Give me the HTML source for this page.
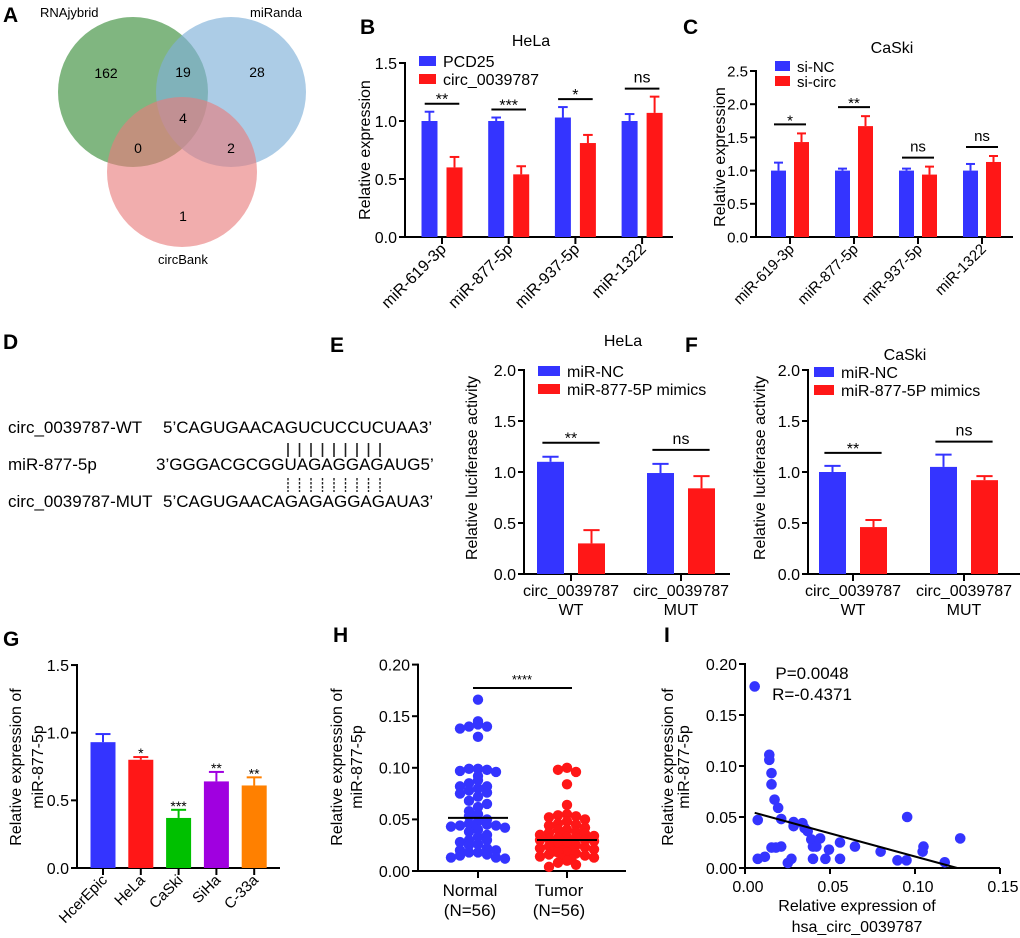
<!DOCTYPE html>
<html><head><meta charset="utf-8"><style>
html,body{margin:0;padding:0;background:#fff;}
svg{display:block;font-family:"Liberation Sans",Arial,sans-serif;}
</style></head><body>
<svg id="fig" width="1020" height="938" viewBox="0 0 1020 938" xmlns="http://www.w3.org/2000/svg">
<g>
<text x="3" y="22" font-size="21" font-weight="bold">A</text>
<circle cx="133" cy="92" r="75" fill="#4f9a4f" fill-opacity="0.72"/>
<circle cx="231" cy="92" r="75" fill="#7fb0d8" fill-opacity="0.65"/>
<circle cx="182" cy="172" r="75" fill="#e87a7a" fill-opacity="0.62"/>
<text x="40" y="17" font-size="13">RNAjybrid</text>
<text x="250" y="17" font-size="13">miRanda</text>
<text x="158" y="264" font-size="13">circBank</text>
<g font-size="14" text-anchor="middle">
<text x="106" y="78">162</text>
<text x="183" y="77">19</text>
<text x="257" y="77">28</text>
<text x="183" y="123">4</text>
<text x="138" y="153">0</text>
<text x="231" y="153">2</text>
<text x="183" y="221">1</text>
</g></g>
<g font-size="17">
<text x="3" y="349" font-size="21" font-weight="bold">D</text>
<text x="8" y="433">circ_0039787-WT</text>
<text x="163" y="433">5’CAGUGAACAGUCUCCUCUAA3’</text>
<text x="8" y="470">miR-877-5p</text>
<text x="156" y="470">3’GGGACGCGGUAGAGGAGAUG5’</text>
<text x="8" y="507">circ_0039787-MUT</text>
<text x="163" y="507">5’CAGUGAACAGAGAGGAGAUA3’</text>
<g id="pairs"></g>
</g>
</svg>
<script>
const NS='http://www.w3.org/2000/svg';
const svg=document.getElementById('fig');
function mk(parent,tag,attrs,name,text){
  const el=document.createElementNS(NS,tag);
  for(const k in attrs) el.setAttribute(k,attrs[k]);
  
  
  if(text!==undefined) el.textContent=text;
  parent.appendChild(el);
  return el;
}
const pg=document.getElementById('pairs');
for(let i=0;i<9;i++){
  const x=288+i*11.5;
  mk(pg,'line',{x1:x,y1:443,x2:x,y2:457,stroke:'#222','stroke-width':1.6},'pair-line-wt');
  mk(pg,'line',{x1:x,y1:478,x2:x,y2:492,stroke:'#222','stroke-width':1.4,'stroke-dasharray':'2.5,1.5'},'pair-line-mut');
}

// ---------- data ----------
const bCats=['miR-619-3p','miR-877-5p','miR-937-5p','miR-1322'];
const bCtrl=[1.0,1.0,1.03,1.0];
const bCtrlErr=[0.08,0.03,0.09,0.06];
const bTreat=[0.6,0.54,0.81,1.07];
const bTreatErr=[0.09,0.07,0.07,0.14];
const bSig=['**','***','*','ns'];
const bTicks=[0,0.5,1.0,1.5];

const cCats=['miR-619-3p','miR-877-5p','miR-937-5p','miR-1322'];
const cCtrl=[1.0,1.0,1.0,1.0];
const cCtrlErr=[0.12,0.03,0.03,0.1];
const cTreat=[1.43,1.67,0.94,1.13];
const cTreatErr=[0.13,0.15,0.12,0.09];
const cSig=['*','**','ns','ns'];
const cTicks=[0,0.5,1.0,1.5,2.0,2.5];

const eCats=['circ_0039787|WT','circ_0039787|MUT'];
const eCtrl=[1.1,0.99];
const eCtrlErr=[0.05,0.09];
const eTreat=[0.3,0.84];
const eTreatErr=[0.13,0.12];
const eSig=['**','ns'];
const fCtrl=[1.0,1.05];
const fCtrlErr=[0.06,0.12];
const fTreat=[0.46,0.92];
const fTreatErr=[0.07,0.04];
const fSig=['**','ns'];
const efTicks=[0,0.5,1.0,1.5,2.0];

const gCats=['HcerEpic','HeLa','CaSki','SiHa','C-33a'];
const gVals=[0.93,0.80,0.37,0.64,0.61];
const gErr=[0.06,0.02,0.06,0.07,0.06];
const gSig=['','*','***','**','**'];
const gTicks=[0,0.5,1.0,1.5];

const hNormal=[0.166,0.145,0.142,0.140,0.140,0.138,0.130,0.099,0.099,0.098,0.097,0.096,0.092,0.088,0.085,0.082,0.082,0.080,0.078,0.076,0.075,0.072,0.068,0.065,0.062,0.058,0.055,0.053,0.050,0.048,0.046,0.045,0.044,0.044,0.043,0.042,0.042,0.040,0.038,0.035,0.033,0.030,0.030,0.028,0.026,0.025,0.022,0.020,0.020,0.018,0.018,0.016,0.015,0.013,0.013,0.012];
const hTumor=[0.100,0.098,0.096,0.084,0.064,0.055,0.054,0.053,0.052,0.050,0.048,0.046,0.045,0.044,0.042,0.040,0.040,0.038,0.037,0.036,0.035,0.034,0.034,0.033,0.032,0.032,0.031,0.030,0.030,0.029,0.028,0.028,0.027,0.026,0.025,0.025,0.024,0.023,0.022,0.021,0.020,0.020,0.019,0.018,0.018,0.017,0.016,0.015,0.014,0.013,0.012,0.011,0.010,0.008,0.006,0.004];
const hTicks=[0,0.05,0.10,0.15,0.20];

const iX=[0.0057,0.0075,0.0143,0.0143,0.0156,0.0156,0.0174,0.0195,0.0213,0.0286,0.0286,0.0338,0.0351,0.0369,0.039,0.0442,0.040,0.042,0.0494,0.0559,0.0647,0.0798,0.0954,0.0897,0.095,0.105,0.1045,0.1175,0.1266,0.0075,0.0117,0.0156,0.0182,0.0213,0.0252,0.0273,0.040,0.0473,0.0559];
const iY=[0.178,0.047,0.111,0.106,0.093,0.082,0.067,0.059,0.048,0.045,0.041,0.044,0.039,0.036,0.028,0.029,0.021,0.021,0.018,0.025,0.021,0.016,0.050,0.0075,0.0075,0.021,0.016,0.0056,0.029,0.009,0.011,0.020,0.020,0.021,0.005,0.009,0.009,0.009,0.009];
const iXTicks=[0,0.05,0.10,0.15];
const iYTicks=[0,0.05,0.10,0.15,0.20];

// ---------- helpers ----------
const BLUE='#3434ff', RED='#ff1717';
function yAxis(g,ox,oy,yTop,ticks,sc,fmt,fs){
  mk(g,'line',{x1:ox,y1:yTop-1,x2:ox,y2:oy+1,stroke:'#000','stroke-width':2},'y-axis-line');
  ticks.forEach(t=>{
    const y=oy-t*sc;
    mk(g,'line',{x1:ox-6,y1:y,x2:ox,y2:y,stroke:'#000','stroke-width':2},'y-tick');
    mk(g,'text',{x:ox-8,y:y+fs*0.36,'font-size':fs,'text-anchor':'end'},'y-tick-label',fmt(t));
  });
}
function xAxis(g,ox,oy,xEnd){
  mk(g,'line',{x1:ox-1,y1:oy,x2:xEnd,y2:oy,stroke:'#000','stroke-width':2},'x-axis-line');
}
function bar(g,cx,w,oy,v,err,sc,color,name){
  const top=oy-v*sc;
  mk(g,'rect',{x:cx-w/2,y:top,width:w,height:v*sc,fill:color},name);
  if(err>0){
    const et=top-err*sc;
    mk(g,'line',{x1:cx,y1:top,x2:cx,y2:et,stroke:color,'stroke-width':2},'error-bar');
    mk(g,'line',{x1:cx-w*0.3,y1:et,x2:cx+w*0.3,y2:et,stroke:color,'stroke-width':2},'error-cap');
  }
  return top-err*sc;
}
function sig(g,x1,x2,y,label,fs){
  mk(g,'line',{x1:x1,y1:y,x2:x2,y2:y,stroke:'#000','stroke-width':2},'significance-line');
  mk(g,'text',{x:(x1+x2)/2,y:label==='ns'?y-6:y+1,'font-size':fs,'text-anchor':'middle'},'significance-label',label);
}
function ylabel(g,x,y,lines,fs,gap){
  lines.forEach((l,i)=>{
    mk(g,'text',{x:0,y:0,'font-size':fs,'text-anchor':'middle',transform:`translate(${x+i*gap},${y}) rotate(-90)`},'y-axis-title',l);
  });
}
function f1(t){return t.toFixed(1);} function f2(t){return t.toFixed(2);}

function grouped(cfg){
  const g=mk(svg,'g',{},cfg.name);
  mk(g,'text',{x:cfg.lx,y:cfg.ly,'font-size':21,'font-weight':'bold'},'panel-label',cfg.letter);
  mk(g,'text',{x:cfg.tx,y:cfg.ty,'font-size':16,'text-anchor':'middle'},'chart-title',cfg.title);
  const sc=cfg.sc;
  yAxis(g,cfg.ox,cfg.oy,cfg.oy-cfg.ticks[cfg.ticks.length-1]*sc,cfg.ticks,sc,f1,cfg.fs);
  xAxis(g,cfg.ox,cfg.oy,cfg.xEnd);
  const n=cfg.cats.length;
  for(let i=0;i<n;i++){
    const tx=cfg.x0+i*cfg.step;
    mk(g,'line',{x1:tx,y1:cfg.oy,x2:tx,y2:cfg.oy+7,stroke:'#000','stroke-width':2},'x-tick');
    bar(g,tx-cfg.off,cfg.bw,cfg.oy,cfg.ctrl[i],cfg.ctrlErr[i],sc,BLUE,'bar-control');
    bar(g,tx+cfg.off,cfg.bw,cfg.oy,cfg.treat[i],cfg.treatErr[i],sc,RED,'bar-treatment');
    const top=Math.max(cfg.ctrl[i]+cfg.ctrlErr[i],cfg.treat[i]+cfg.treatErr[i]);
    const sy=cfg.oy-top*sc-cfg.sigGap;
    sig(g,tx-cfg.off-cfg.bw*0.3,tx+cfg.off+cfg.bw*0.3,sy,cfg.sig[i],cfg.fs);
    const parts=cfg.cats[i].split('|');
    if(cfg.rot){
      mk(g,'text',{x:0,y:0,'font-size':cfg.fs,'text-anchor':'end',transform:`translate(${tx+5},${cfg.oy+13}) rotate(-45)`},'x-tick-label',parts[0]);
    } else {
      parts.forEach((p,k)=>mk(g,'text',{x:tx,y:cfg.oy+22+k*19,'font-size':cfg.fs,'text-anchor':'middle'},'x-tick-label',p));
    }
  }
  cfg.legend.forEach((l,k)=>{
    mk(g,'rect',{x:cfg.legX,y:cfg.legY+k*cfg.legGap-5,width:cfg.legW,height:10,fill:k?RED:BLUE},'legend-swatch');
    mk(g,'text',{x:cfg.legX+cfg.legW+7,y:cfg.legY+k*cfg.legGap+6,'font-size':cfg.legFs},'legend-entry',l);
  });
  ylabel(g,cfg.ylx,cfg.yly,cfg.ylab,cfg.yfs,0);
}
grouped({name:'panel-b-hela',letter:'B',lx:360,ly:34,title:'HeLa',tx:531,ty:46,ox:405,oy:237,sc:116,xEnd:673,ticks:bTicks,cats:bCats,ctrl:bCtrl,ctrlErr:bCtrlErr,treat:bTreat,treatErr:bTreatErr,sig:bSig,x0:442,step:66.7,off:12.5,bw:16,sigGap:8,fs:16,rot:true,legend:['PCD25','circ_0039787'],legX:419,legY:61,legGap:18,legW:17,legFs:16,ylx:370,yly:150,ylab:['Relative expression'],yfs:16});
grouped({name:'panel-c-caski',letter:'C',lx:683,ly:34,title:'CaSki',tx:892,ty:53,ox:756,oy:237,sc:66.4,xEnd:1013,ticks:cTicks,cats:cCats,ctrl:cCtrl,ctrlErr:cCtrlErr,treat:cTreat,treatErr:cTreatErr,sig:cSig,x0:790,step:64,off:11.5,bw:15,sigGap:9,fs:15,rot:true,legend:['si-NC','si-circ'],legX:775,legY:66,legGap:15,legW:15,legFs:15,ylx:725,yly:157,ylab:['Relative expression'],yfs:16});
grouped({name:'panel-e-hela-luciferase',letter:'E',lx:330,ly:352,title:'HeLa',tx:623,ty:346,ox:524,oy:574,sc:102,xEnd:730,ticks:efTicks,cats:eCats,ctrl:eCtrl,ctrlErr:eCtrlErr,treat:eTreat,treatErr:eTreatErr,sig:eSig,x0:571,step:110,off:20.5,bw:27,sigGap:14,fs:16,rot:false,legend:['miR-NC','miR-877-5P mimics'],legX:538,legY:371,legGap:18,legW:22,legFs:16,ylx:477,yly:468,ylab:['Relative luciferase activity'],yfs:16});
grouped({name:'panel-f-caski-luciferase',letter:'F',lx:685,ly:352,title:'CaSki',tx:905,ty:360,ox:808,oy:574,sc:102,xEnd:1020,ticks:efTicks,cats:eCats,ctrl:fCtrl,ctrlErr:fCtrlErr,treat:fTreat,treatErr:fTreatErr,sig:fSig,x0:853,step:111,off:20.5,bw:27,sigGap:13,fs:16,rot:false,legend:['miR-NC','miR-877-5P mimics'],legX:814,legY:372,legGap:18,legW:20,legFs:16,ylx:765,yly:468,ylab:['Relative luciferase activity'],yfs:16});

// G
(function(){
  const g=mk(svg,'g',{},'panel-g-cell-lines');
  mk(g,'text',{x:3,y:646,'font-size':21,'font-weight':'bold'},'panel-label','G');
  const ox=77,oy=868,sc=135.3;
  yAxis(g,ox,oy,oy-1.5*sc,gTicks,sc,f1,16);
  xAxis(g,ox,oy,280);
  const cols=['#3434ff','#ff1717','#00c000','#a000e0','#ff8000'];
  gCats.forEach((c,i)=>{
    const tx=103+i*37.8;
    mk(g,'line',{x1:tx,y1:oy,x2:tx,y2:oy+7,stroke:'#000','stroke-width':2},'x-tick');
    const t=bar(g,tx,25,oy,gVals[i],gErr[i],sc,cols[i],'bar-'+c.toLowerCase());
    if(gSig[i]) mk(g,'text',{x:tx,y:t+1,'font-size':14,'text-anchor':'middle'},'significance-label',gSig[i]);
    mk(g,'text',{x:0,y:0,'font-size':15,'text-anchor':'end',transform:`translate(${tx+5},${oy+13}) rotate(-45)`},'x-tick-label',c);
  });
  ylabel(g,21,767,['Relative expression of','miR-877-5p'],16,22);
})();

// H
(function(){
  const g=mk(svg,'g',{},'panel-h-normal-vs-tumor');
  mk(g,'text',{x:333,y:642,'font-size':21,'font-weight':'bold'},'panel-label','H');
  const ox=418,oy=871,sc=51.6/0.05;
  yAxis(g,ox,oy,oy-0.2*sc,hTicks,sc,f2,16);
  xAxis(g,ox,oy,626);
  const groups=[[hNormal,478,BLUE,'Normal'],[hTumor,567,RED,'Tumor']];
  const offs=[0,-9,9,-18,18,-27,27,-4.5,4.5,-13.5,13.5,-22.5,22.5];
  groups.forEach(([vals,cx,col,lab])=>{
    mk(g,'line',{x1:cx,y1:oy,x2:cx,y2:oy+7,stroke:'#000','stroke-width':2},'x-tick');
    const sorted=vals.slice().sort((a,b)=>b-a);
    const rows={};
    sorted.forEach(v=>{
      const y=oy-v*sc;
      const key=Math.round(y/8);
      const k=rows[key]||0; rows[key]=k+1;
      const dx=offs[k%offs.length];
      mk(g,'circle',{cx:cx+dx,cy:y,r:5.2,fill:col},'point-'+lab.toLowerCase());
    });
    const m=sorted.length, med=m%2?sorted[(m-1)/2]:(sorted[m/2-1]+sorted[m/2])/2;
    mk(g,'line',{x1:cx-30,y1:oy-med*sc,x2:cx+30,y2:oy-med*sc,stroke:'#000','stroke-width':2},'median-line');
    mk(g,'text',{x:cx-8,y:oy+25,'font-size':17,'text-anchor':'middle'},'x-tick-label',lab);
    mk(g,'text',{x:cx-8,y:oy+45,'font-size':17,'text-anchor':'middle'},'x-tick-label','(N=56)');
  });
  mk(g,'line',{x1:473,y1:688,x2:572,y2:688,stroke:'#000','stroke-width':2},'significance-line');
  mk(g,'text',{x:522,y:684,'font-size':13,'text-anchor':'middle'},'significance-label','****');
  ylabel(g,342,767,['Relative expression of','miR-877-5p'],16,20);
})();

// I
(function(){
  const g=mk(svg,'g',{},'panel-i-correlation');
  mk(g,'text',{x:664,y:642,'font-size':21,'font-weight':'bold'},'panel-label','I');
  const ox=745,oy=868,sy=51/0.05,sx=255/0.15;
  yAxis(g,ox,oy,oy-0.2*sy,iYTicks,sy,f2,16);
  mk(g,'line',{x1:ox-1,y1:oy,x2:ox+0.15*sx,y2:oy,stroke:'#000','stroke-width':2},'x-axis-line');
  iXTicks.forEach(t=>{
    const x=ox+t*sx;
    mk(g,'line',{x1:x,y1:oy,x2:x,y2:oy+6,stroke:'#000','stroke-width':2},'x-tick');
    mk(g,'text',{x:x+3,y:oy+24,'font-size':16,'text-anchor':'middle'},'x-tick-label',f2(t));
  });
  iX.forEach((x,i)=>{
    mk(g,'circle',{cx:ox+x*sx,cy:oy-iY[i]*sy,r:5.3,fill:BLUE},'scatter-point');
  });
  const n=iX.length, mx=iX.reduce((a,b)=>a+b,0)/n, my=iY.reduce((a,b)=>a+b,0)/n;
  let sxy=0,sxx=0; for(let i=0;i<n;i++){sxy+=(iX[i]-mx)*(iY[i]-my);sxx+=(iX[i]-mx)**2;}
  const b=sxy/sxx, a=my-b*mx;
  const x1=Math.min(...iX); let x2=Math.max(...iX);
  if(b<0) x2=Math.min(x2,-a/b);
  mk(g,'line',{x1:ox+x1*sx,y1:oy-(a+b*x1)*sy,x2:ox+x2*sx,y2:oy-(a+b*x2)*sy,stroke:'#000','stroke-width':2},'regression-line');
  mk(g,'text',{x:812,y:679,'font-size':17,'text-anchor':'middle'},'p-value','P=0.0048');
  mk(g,'text',{x:812,y:700,'font-size':17,'text-anchor':'middle'},'r-value','R=-0.4371');
  mk(g,'text',{x:857,y:911,'font-size':16,'text-anchor':'middle'},'x-axis-title','Relative expression of');
  mk(g,'text',{x:857,y:932,'font-size':16,'text-anchor':'middle'},'x-axis-title','hsa_circ_0039787');
  ylabel(g,673,767,['Relative expression of','miR-877-5p'],16,16);
})();
</script>
</body></html>
